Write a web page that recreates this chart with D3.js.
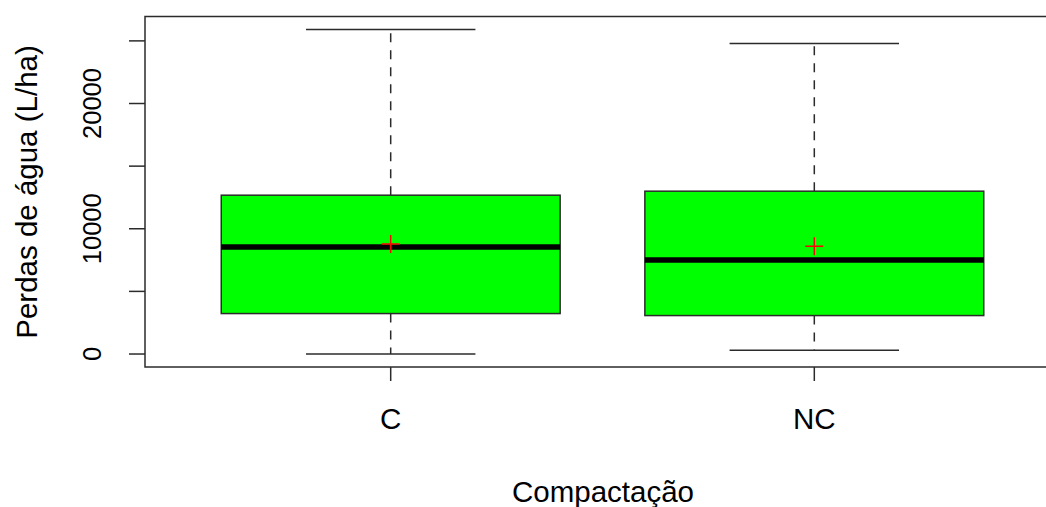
<!DOCTYPE html>
<html>
<head>
<meta charset="utf-8">
<script src="https://cdn.jsdelivr.net/npm/d3@7"></script>
<style>
  body { margin: 0; background: #fff; }
  text { font-family: "Liberation Sans", Arial, sans-serif; fill: #000; }
</style>
</head>
<body>
<div id="chart"></div>
<script>
// values (L/ha)
var groups = ['C', 'NC'];
var mins = [0, 300];
var q1s = [3230, 3070];
var medians = [8550, 7510];
var q3s = [12680, 13000];
var maxs = [25910, 24790];
var means = [8790, 8600];
var yTicks = [0, 5000, 10000, 15000, 20000, 25000];
var yTickLabels = ['0', '', '10000', '', '20000', ''];

var W = 1046, H = 507;
var plot = {left: 145, right: 1060, top: 16.5, bottom: 367};

var svg = d3.select('#chart').append('svg')
    .attr('width', W)
    .attr('height', H);

// R style: 4% padding on both axes
var lo = d3.min(mins), hi = d3.max(maxs);
var pad = (hi - lo) * 0.04;
var y = d3.scaleLinear().domain([lo - pad, hi + pad]).range([plot.bottom, plot.top]);
var x = d3.scaleLinear().domain([0.42, 2.58]).range([plot.left, plot.right]);

var data = groups.map(function(g, i) {
    return {name: g, pos: i + 1, min: mins[i], q1: q1s[i], med: medians[i], q3: q3s[i], max: maxs[i], mean: means[i]};
});

var boxHalf = 0.4, stapleHalf = 0.2;
var ink = '#2b2b2b';

var g = svg.selectAll('.box')
    .data(data)
    .enter().append('g')
    .attr('class', 'box');

// whiskers
g.append('line')
    .attr('x1', d => x(d.pos)).attr('x2', d => x(d.pos))
    .attr('y1', d => y(d.q3)).attr('y2', d => y(d.max))
    .attr('stroke', ink).attr('stroke-width', 1.5).attr('stroke-dasharray', '9,8');
g.append('line')
    .attr('x1', d => x(d.pos)).attr('x2', d => x(d.pos))
    .attr('y1', d => y(d.q1)).attr('y2', d => y(d.min))
    .attr('stroke', ink).attr('stroke-width', 1.5).attr('stroke-dasharray', '9,8');

// staples
['max', 'min'].forEach(function(k) {
    g.append('line')
        .attr('x1', d => x(d.pos - stapleHalf)).attr('x2', d => x(d.pos + stapleHalf))
        .attr('y1', d => y(d[k])).attr('y2', d => y(d[k]))
        .attr('stroke', ink).attr('stroke-width', 1.5);
});

// boxes
g.append('rect')
    .attr('x', d => x(d.pos - boxHalf))
    .attr('width', d => x(d.pos + boxHalf) - x(d.pos - boxHalf))
    .attr('y', d => y(d.q3))
    .attr('height', d => y(d.q1) - y(d.q3))
    .attr('fill', '#00ff00')
    .attr('stroke', ink).attr('stroke-width', 1.5);

// medians
g.append('line')
    .attr('x1', d => x(d.pos - boxHalf)).attr('x2', d => x(d.pos + boxHalf))
    .attr('y1', d => y(d.med)).attr('y2', d => y(d.med))
    .attr('stroke', '#000').attr('stroke-width', 5.5);

// mean crosses
var arm = 9;
g.append('path')
    .attr('d', d => 'M' + (x(d.pos) - arm) + ',' + y(d.mean) + 'H' + (x(d.pos) + arm) +
                    'M' + x(d.pos) + ',' + (y(d.mean) - arm) + 'V' + (y(d.mean) + arm))
    .attr('stroke', '#ff0000').attr('stroke-width', 1.5).attr('fill', 'none');

// plot frame
svg.append('rect')
    .attr('x', plot.left).attr('y', plot.top)
    .attr('width', plot.right - plot.left).attr('height', plot.bottom - plot.top)
    .attr('fill', 'none').attr('stroke', ink).attr('stroke-width', 1.5);

// y axis: ticks outside the frame, rotated labels
var ytk = svg.append('g');
ytk.selectAll('line').data(yTicks).enter().append('line')
    .attr('x1', plot.left - 16).attr('x2', plot.left)
    .attr('y1', d => y(d)).attr('y2', d => y(d))
    .attr('stroke', ink).attr('stroke-width', 1.5);
ytk.selectAll('text').data(yTicks).enter().append('text')
    .attr('transform', d => 'translate(101,' + y(d) + ') rotate(-90)')
    .attr('text-anchor', 'middle')
    .style('font-size', '25.5px')
    .text((d, i) => yTickLabels[i]);

// x axis ticks and labels
var xa = svg.append('g');
xa.selectAll('line').data(data).enter().append('line')
    .attr('x1', d => x(d.pos)).attr('x2', d => x(d.pos))
    .attr('y1', plot.bottom).attr('y2', plot.bottom + 14)
    .attr('stroke', ink).attr('stroke-width', 1.5);
xa.selectAll('text').data(data).enter().append('text')
    .attr('x', d => x(d.pos))
    .attr('y', 429)
    .attr('text-anchor', 'middle')
    .style('font-size', '29.5px')
    .text(d => d.name);

// axis titles
svg.append('text')
    .attr('x', 603).attr('y', 502)
    .attr('text-anchor', 'middle')
    .style('font-size', '29.5px')
    .text('Compactação');
svg.append('text')
    .attr('transform', 'translate(37,192) rotate(-90)')
    .attr('text-anchor', 'middle')
    .style('font-size', '29.5px')
    .text('Perdas de água (L/ha)');
</script>
</body>
</html>
